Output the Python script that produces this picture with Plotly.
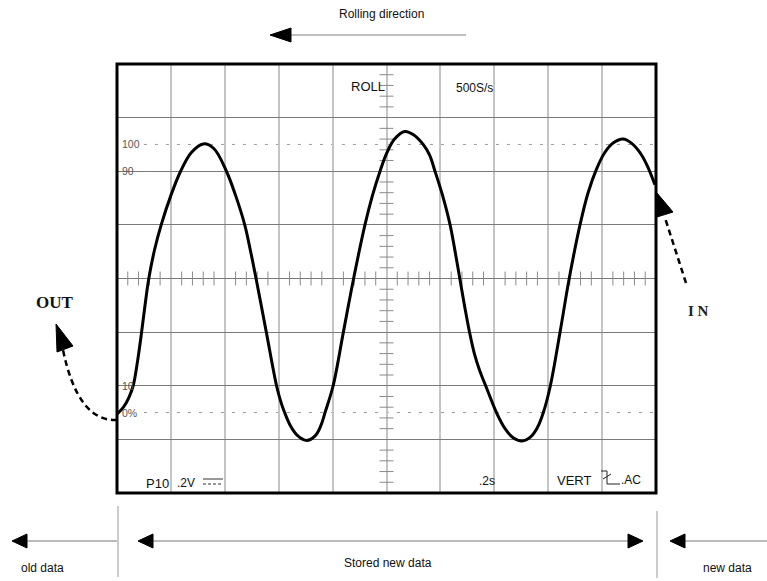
import plotly.graph_objects as go

# ---- data (x, y in screen divisions) ----
wave_x = [0, 0.12, 0.22, 0.3, 0.38, 0.45, 0.52, 0.59, 0.7, 0.82, 1.0, 1.18, 1.38, 1.6,
          1.8, 2.03, 2.2, 2.37, 2.48, 2.58, 2.77, 2.96, 3.04, 3.11, 3.22, 3.35, 3.52,
          3.68, 3.78, 3.86, 4.01, 4.2, 4.39, 4.6, 4.74, 4.88, 5.0, 5.15, 5.34,
          5.5, 5.68, 5.8, 5.9, 6.04, 6.18, 6.27, 6.36, 6.45, 6.54, 6.63, 6.73, 6.84, 7.04,
          7.2, 7.35, 7.51,
          7.68, 7.8, 7.91, 8.04, 8.22, 8.39, 8.59, 8.74, 8.9, 9.05, 9.21, 9.39,
          9.55, 9.7, 9.83, 9.98]
wave_y = [-2.53, -2.4, -2.22, -2.0, -1.55, -1.05, -0.5, 0, 0.55, 1.0, 1.55, 2.0, 2.35, 2.51,
          2.42, 2.0, 1.55, 1.0, 0.5, 0, -1.0, -2.0, -2.3, -2.5, -2.75, -2.93, -3.02,
          -2.93, -2.75, -2.5, -2.0, -1.0, 0, 1.0, 1.55, 2.0, 2.33, 2.6, 2.74,
          2.68, 2.5, 2.3, 2.0, 1.55, 1.0, 0.52, 0, -0.52, -1.0, -1.4, -1.72, -2.0, -2.5,
          -2.8, -2.97, -3.03,
          -2.95, -2.78, -2.5, -2.0, -1.0, 0, 1.0, 1.6, 2.05, 2.35, 2.53, 2.6,
          2.52, 2.35, 2.12, 1.75]

level_labels = ["100", "90", "10", "0%"]
level_values = [2.5, 2.0, -2.0, -2.5]

W, H = 767, 581
L, R, T, B = 117, 656, 64, 493


def px(x):
    return (x - L) / (R - L)


def py(y):
    return (B - y) / (B - T)


SANS = "Liberation Sans, Arial, sans-serif"
SERIF = "Liberation Serif, Times New Roman, serif"

fig = go.Figure()

# center graticule ticks
tx = [i / 5 for i in range(1, 50) if i % 5 != 0]
fig.add_trace(go.Scatter(x=tx, y=[0] * len(tx), mode="markers", hoverinfo="skip",
                         marker=dict(symbol="line-ns", size=10,
                                     line=dict(width=1, color="#8a8a8a")),
                         showlegend=False))
ty = [i / 5 - 4 for i in range(1, 40) if i % 5 != 0]
fig.add_trace(go.Scatter(x=[5] * len(ty), y=ty, mode="markers", hoverinfo="skip",
                         marker=dict(symbol="line-ew", size=10,
                                     line=dict(width=1, color="#8a8a8a")),
                         showlegend=False))

# 0% / 100% dashed reference levels
for yv in (2.5, -2.5):
    fig.add_shape(type="line", xref="x", yref="y", x0=0.5, x1=10, y0=yv, y1=yv,
                  line=dict(color="#9a9a9a", width=1, dash="3px,8px"), layer="below")

# waveform
fig.add_trace(go.Scatter(x=wave_x, y=wave_y, mode="lines", hoverinfo="skip",
                         line=dict(color="black", width=3, shape="spline", smoothing=1.0),
                         showlegend=False))

# level labels
for lab, val in zip(level_labels, level_values):
    fig.add_annotation(x=0.05, y=val, xref="x", yref="y", text=lab, showarrow=False,
                       xanchor="left", yanchor="middle",
                       font=dict(family=SANS, size=10.5, color="#555"))

# frame
fig.add_shape(type="rect", xref="paper", yref="paper", x0=0, x1=1, y0=0, y1=1,
              line=dict(color="black", width=3))


def txt(x, y, s, size=12, family=SANS, color="#111", anchor="center"):
    fig.add_annotation(x=px(x), y=py(y), xref="paper", yref="paper", text=s,
                       showarrow=False, xanchor=anchor, yanchor="middle",
                       font=dict(family=family, size=size, color=color))


def seg(x0, y0, x1, y1, color="#aaa", width=1.5, dash=None):
    fig.add_shape(type="line", xref="paper", yref="paper", x0=px(x0), y0=py(y0),
                  x1=px(x1), y1=py(y1), line=dict(color=color, width=width, dash=dash))


def tri(pts, color="black"):
    p = "M " + " L ".join(f"{px(a)},{py(b)}" for a, b in pts) + " Z"
    fig.add_shape(type="path", xref="paper", yref="paper", path=p,
                  fillcolor=color, line=dict(color=color, width=1))


# in-screen texts
txt(368, 86, "ROLL", size=13)
txt(474, 88, "500S/s", size=12)
txt(157, 483, "P10", size=13)
txt(186, 483, ".2V", size=12)
seg(203, 479, 223, 479, color="#333", width=1)
seg(203, 484, 223, 484, color="#333", width=1, dash="3px,2px")
txt(487, 481, ".2s", size=12)
txt(574, 480, "VERT", size=13)
fig.add_shape(type="path", xref="paper", yref="paper",
              path=f"M {px(601)},{py(471)} L {px(607)},{py(471)} L {px(607)},{py(484)} L {px(620)},{py(484)}",
              line=dict(color="#222", width=1))
seg(603, 479, 611, 474, color="#222", width=1)
txt(631, 480, ".AC", size=12)

# rolling direction
txt(381, 14, "Rolling direction", size=12)
seg(290, 35, 466, 35, color="#aaa", width=1.5)
tri([(270, 35), (291, 28), (291, 42)])

# bottom markers
seg(118, 506, 118, 577, color="#999", width=1)
seg(657, 511, 657, 578, color="#999", width=1)
seg(26, 541, 117, 541, color="#bbb", width=2)
tri([(12, 541), (27, 534), (27, 548)])
seg(152, 541, 629, 541, color="#bbb", width=2)
tri([(138, 541), (153, 534), (153, 548)])
tri([(643, 541), (628, 534), (628, 548)])
seg(684, 541, 767, 541, color="#bbb", width=2)
tri([(670, 541), (685, 534), (685, 548)])
txt(42, 568, "old data", size=12)
txt(388, 563, "Stored new data", size=12)
txt(727, 568, "new data", size=12)

# OUT arrow
fig.add_shape(type="path", xref="paper", yref="paper",
              path=f"M {px(117)},{py(420)} Q {px(78)},{py(422)} {px(63)},{py(350)}",
              line=dict(color="black", width=2.5, dash="6px,4px"))
tri([(56, 324), (57, 352), (73, 346)])
txt(55, 302, "<b>OUT</b>", size=17, family=SERIF, color="#111")

# IN arrow
seg(686, 283, 665, 218, color="black", width=2.5, dash="6px,4px")
tri([(657, 193), (657, 217), (673, 212)])
txt(698, 311, "<b>I N</b>", size=15, family=SERIF, color="#222")

fig.update_xaxes(range=[0, 10], dtick=1, showgrid=True, gridcolor="#c4c4c4", gridwidth=1.5,
                 zeroline=False, showticklabels=False, ticks="", showline=False, fixedrange=True)
fig.update_yaxes(range=[-4, 4], dtick=1, showgrid=True, gridcolor="#7a7a7a", gridwidth=1,
                 zeroline=False, showticklabels=False, ticks="", showline=False, fixedrange=True)
fig.update_layout(width=W, height=H, autosize=False,
                  margin=dict(l=L, r=W - R, t=T, b=H - B, pad=0),
                  plot_bgcolor="white", paper_bgcolor="white", showlegend=False)

fig.write_html("out.html", config={"displayModeBar": False},
               post_script="document.body.style.margin='0';document.body.style.overflow='hidden';")
